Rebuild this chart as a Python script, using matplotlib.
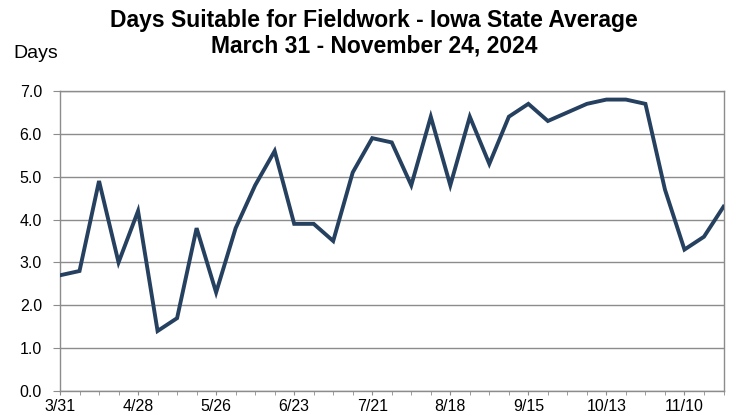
import matplotlib
matplotlib.use("Agg")
import matplotlib.pyplot as plt
from matplotlib.ticker import MultipleLocator, FixedLocator

plt.rcParams['font.family'] = ['Liberation Sans', 'DejaVu Sans']

# weekly readings, week ending 3/31 through 11/24
weeks = ['3/31', '4/7', '4/14', '4/21', '4/28', '5/5', '5/12', '5/19', '5/26',
         '6/2', '6/9', '6/16', '6/23', '6/30', '7/7', '7/14', '7/21', '7/28',
         '8/4', '8/11', '8/18', '8/25', '9/1', '9/8', '9/15', '9/22', '9/29',
         '10/6', '10/13', '10/20', '10/27', '11/3', '11/10', '11/17', '11/24']
days = [2.7, 2.8, 4.9, 3.0, 4.2, 1.4, 1.7, 3.8, 2.3, 3.8, 4.8, 5.6, 3.9, 3.9,
        3.5, 5.1, 5.9, 5.8, 4.8, 6.4, 4.8, 6.4, 5.3, 6.4, 6.7, 6.3, 6.5, 6.7,
        6.8, 6.8, 6.7, 4.7, 3.3, 3.6, 4.3]
label_every = 4

grey = '#8c8c8c'
H = 418

fig = plt.figure(figsize=(7.31, 4.18), dpi=100)
ax = fig.add_axes([60 / 731, 27 / H, 663.5 / 731, 300 / H])

x = list(range(len(days)))
ax.plot(x, days, color='#26405f', linewidth=2.8, solid_joinstyle='miter', zorder=3)

ax.set_xlim(0, len(days) - 1)
ax.set_ylim(0, 7)
ax.yaxis.set_major_locator(MultipleLocator(1))
ax.yaxis.set_major_formatter(plt.FuncFormatter(lambda v, p: f"{v:.1f}"))
ax.grid(axis='y', color=grey, linewidth=1)
ax.set_axisbelow(True)

ax.xaxis.set_major_locator(FixedLocator(x[::label_every]))
ax.set_xticklabels(weeks[::label_every])
ax.xaxis.set_minor_locator(FixedLocator(x))

for s in ax.spines.values():
    s.set_color(grey)
    s.set_linewidth(1)

ax.tick_params(axis='y', length=5, color=grey, labelsize=11.5, pad=8)
ax.tick_params(axis='x', which='both', length=3, color=grey, labelsize=11.5, pad=3)

fig.text(13 / 731, 1 - 58.3 / H, 'Days', fontsize=14, va='baseline', ha='left')
fig.text(374 / 731, 1 - 26.7 / H, 'Days Suitable for Fieldwork - Iowa State Average',
         fontsize=16.5, fontweight='bold', ha='center', va='baseline')
fig.text(374 / 731, 1 - 53 / H, 'March 31 - November 24, 2024',
         fontsize=16.5, fontweight='bold', ha='center', va='baseline')

fig.savefig('out.png', dpi=100)
